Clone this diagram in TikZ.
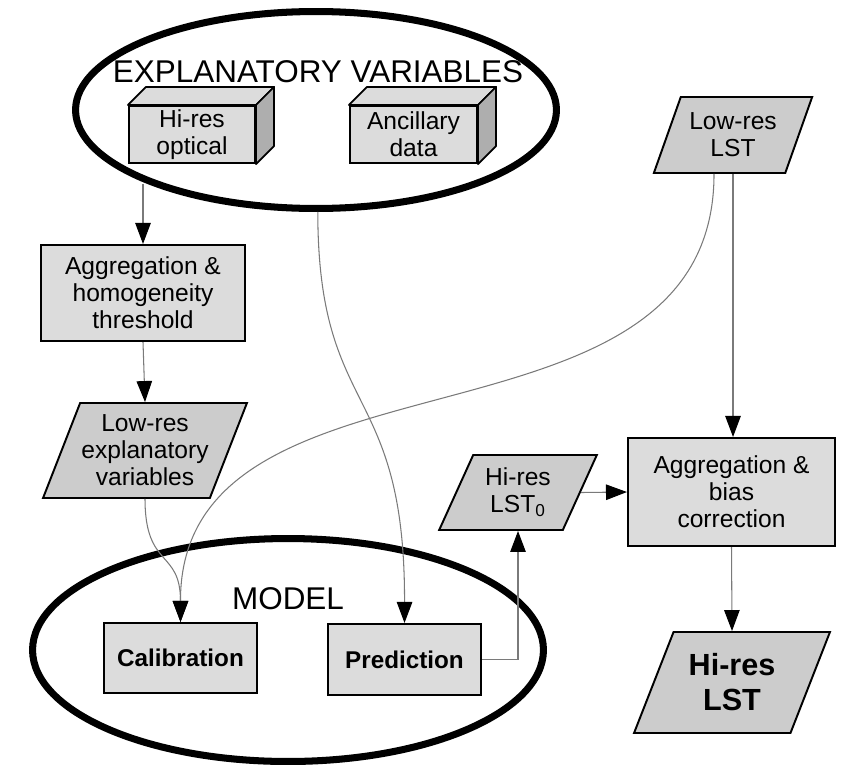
\documentclass[tikz,border=0pt]{standalone}
\usepackage{fontspec}
\setmainfont{Liberation Sans}
\usetikzlibrary{arrows.meta, positioning, shapes.geometric, calc}
\definecolor{cbox}{HTML}{DCDCDC}
\definecolor{cpara}{HTML}{CCCCCC}
\definecolor{cside}{HTML}{AEAEAE}
\definecolor{cline}{HTML}{7A7A7A}
\tikzset{
  every picture/.style={line width=1pt},
  box/.style={draw=black, fill=cbox, line width=1.2pt, align=center, inner sep=0pt, font=\fontsize{14}{15.4}\selectfont},
  para/.style={trapezium, trapezium left angle=63, trapezium right angle=117, trapezium stretches=true,
    draw=black, fill=cpara, line width=1.1pt, align=center, inner sep=0pt, font=\fontsize{14}{15.4}\selectfont},
  cubeface/.style={draw=black, line width=1pt, line join=round},
  group/.style={ellipse, draw=black, line width=4pt, inner sep=0pt},
  title/.style={font=\fontsize{17.9}{20}\selectfont},
  link/.style={-{Triangle[length=0.42cm, width=0.31cm, color=black]}, draw=cline, line width=0.6pt},
}
\begin{document}
\begin{tikzpicture}[x=0.02cm, y=-0.02cm]
  \useasboundingbox (0,0) rectangle (847,764);
  % explanatory variables
  \node[group, minimum width=9.62cm, minimum height=3.94cm] (EV) at (316,110) {};
  \node[title] (EVt) at (318,72) {EXPLANATORY VARIABLES};
  \node[box, minimum width=2.52cm, minimum height=1.14cm] (HO) at (192,134.5) {Hi-res\\optical};
  \node[box, minimum width=2.54cm, minimum height=1.14cm] (AD) at (413.5,134.5) {Ancillary\\data};
  \foreach \c in {HO, AD} {
    \draw[cubeface, fill=cbox] (\c.north west) -- ++(18,-18) -- ($(\c.north east)+(18,-18)$) -- (\c.north east) -- cycle;
    \draw[cubeface, fill=cside] (\c.north east) -- ++(18,-18) -- ($(\c.south east)+(18,-18)$) -- (\c.south east) -- cycle;
  }
  % left branch
  \node[box, minimum width=4.08cm, minimum height=1.92cm] (Agg) at (143,293) {Aggregation \&\\homogeneity\\threshold};
  \node[para, minimum width=4.08cm, minimum height=1.9cm] (LRX) at (145,450.5) {Low-res\\explanatory\\variables};
  % low-res LST and correction
  \node[para, minimum width=3.18cm, minimum height=1.52cm] (LST) at (733,135) {Low-res\\LST};
  \node[box, minimum width=4.14cm, minimum height=2.16cm] (AggB) at (731.5,492) {Aggregation \&\\bias\\correction};
  \node[para, minimum width=3.16cm, minimum height=1.5cm] (LST0) at (518,492.5) {Hi-res\\LST\textsubscript{0}};
  \node[para, minimum width=3.92cm, minimum height=2.02cm, font=\bfseries\fontsize{17.4}{19.9}\selectfont] (HRL) at (732,682.5) {Hi-res\\LST};
  % model
  \node[group, minimum width=10.22cm, minimum height=4.46cm] (MOD) at (288,650) {};
  \node[title] (MODt) at (288,599) {MODEL};
  \node[box, minimum width=3.06cm, minimum height=1.4cm, font=\bfseries\fontsize{13.8}{15}\selectfont] (Cal) at (180.5,658) {Calibration};
  \node[box, minimum width=3.06cm, minimum height=1.42cm, font=\bfseries\fontsize{13.8}{15}\selectfont] (Pred) at (404.5,659.5) {Prediction};
  % connectors
  \draw[link] (Agg.north |- EV.-156.6) -- (Agg.north);
  \draw[link] (Agg.south) -- (LRX.north);
  \draw[link] (LRX.south) .. controls +(0,70) and +(0,-73) .. (Cal.north);
  \draw[link] ($(LST.south)+(-19,0)$) .. controls (714,470) and (180,330) .. (Cal.north);
  \draw[link] (EV.-89) .. controls (318,420) and (405,380) .. (Pred.north);
  \draw[link] (LST.south) -- (LST.south |- AggB.north);
  \draw[link] (LST0.east) -- (AggB.west);
  \draw[link] (Pred.east) -| (LST0.south);
  \draw[link] (AggB.south) -- (HRL.north);
\end{tikzpicture}
\end{document}
